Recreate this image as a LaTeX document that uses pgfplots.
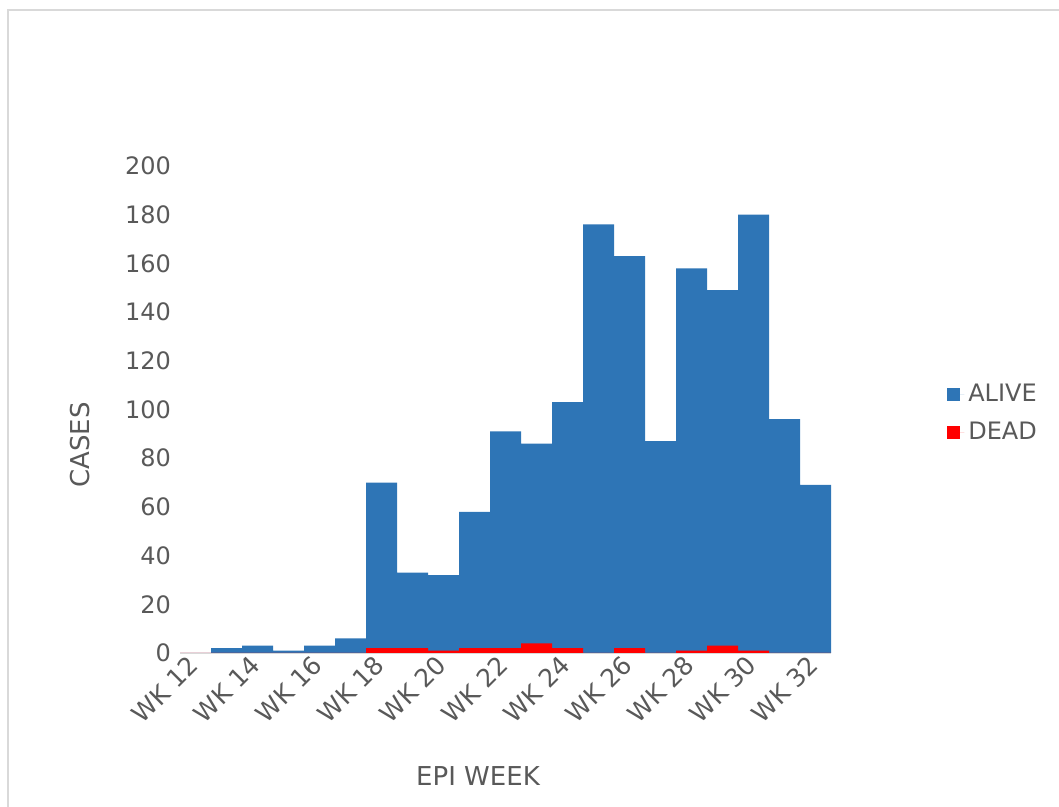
\documentclass[border=0pt]{standalone}
\usepackage{fontspec}
\setmainfont{DejaVu Sans}
\usepackage{pgfplots}
\pgfplotsset{compat=1.18}
\definecolor{alive}{HTML}{2E75B6}
\definecolor{dead}{HTML}{FF0000}
\definecolor{txt}{HTML}{595959}
\definecolor{frame}{HTML}{D9D9D9}

\pgfplotstableread{
x alive dead
0 0 0
1 2 0
2 3 0
3 1 0
4 3 0
5 6 0
6 70 2
7 33 2
8 32 1
9 58 2
10 91 2
11 86 4
12 103 2
13 176 0
14 163 2
15 87 0
16 158 1
17 149 3
18 180 1
19 96 0
20 69 0
}\cases

\begin{document}
\begin{tikzpicture}
% page = 1059x807 px at 0.5pt per px
\useasboundingbox (0,0) rectangle (529.5pt,403.5pt);
\draw[frame, line width=0.8pt] (4pt,0) -- (4pt,398.5pt) -- (529.5pt,398.5pt);

\begin{axis}[
    at={(90pt,77pt)}, anchor=south west,
    scale only axis,
    width=325.5pt, height=243.5pt,
    xmin=-0.5, xmax=20.5,
    ymin=0, ymax=200,
    ytick={0,20,...,200},
    xtick={0,2,...,20},
    xticklabels={WK 12,WK 14,WK 16,WK 18,WK 20,WK 22,WK 24,WK 26,WK 28,WK 30,WK 32},
    axis x line*=bottom, axis y line*=left,
    x axis line style={draw=frame, -},
    y axis line style={draw=none},
    major tick length=0pt,
    tick style={draw=none},
    /pgf/number format/assume math mode=true,
    ticklabel style={font=\fontsize{12pt}{14pt}\selectfont, text=txt},
    y tick label style={xshift=-1pt},
    x tick label style={rotate=45, anchor=east, yshift=-2pt,
        font=\fontsize{12.5pt}{14pt}\selectfont},
    legend style={at={(1.178,0.492)}, anchor=west, draw=none, fill=none,
        font=\fontsize{12pt}{14pt}\selectfont, text=txt,
        row sep=4.5pt, inner sep=0pt,
        /tikz/every even column/.append style={column sep=0pt}},
    legend cell align=left,
    legend image code/.code={\fill[#1] (0pt,-3.25pt) rectangle (6.5pt,3.25pt);
        \path (0pt,0pt) -- (8.5pt,0pt);},
]
\addplot[ybar, bar width=1, bar shift=0, fill=alive, draw=none] table[x=x, y=alive] {\cases};
\addlegendentry{ALIVE}
\addplot[ybar, bar width=1, bar shift=0, fill=dead, draw=none] table[x=x, y=dead] {\cases};
\addlegendentry{DEAD}
\end{axis}

\node[text=txt, font=\fontsize{13pt}{15pt}\selectfont] at (239pt,15.5pt) {EPI WEEK};
\node[text=txt, font=\fontsize{13pt}{15pt}\selectfont, rotate=90] at (40pt,181pt) {CASES};
\end{tikzpicture}
\end{document}
